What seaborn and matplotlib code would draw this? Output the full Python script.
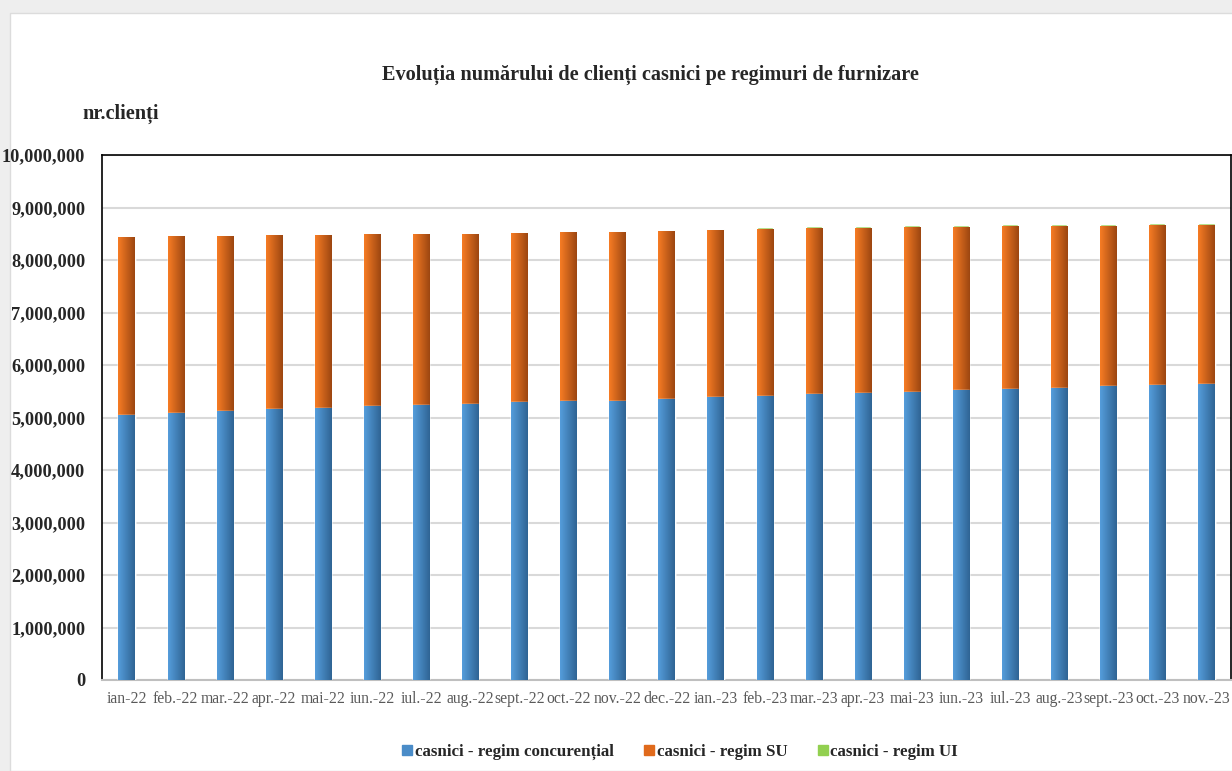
import numpy as np
import pandas as pd
import matplotlib
matplotlib.use("Agg")
import matplotlib.pyplot as plt
import seaborn as sns
from matplotlib.colors import LinearSegmentedColormap
from matplotlib.patches import Rectangle
from matplotlib.ticker import FuncFormatter, MultipleLocator

# -----------------------------
# DATA
# -----------------------------
months = ["ian-22", "feb.-22", "mar.-22", "apr.-22", "mai-22", "iun.-22", "iul.-22",
          "aug.-22", "sept.-22", "oct.-22", "nov.-22", "dec.-22", "ian.-23", "feb.-23",
          "mar.-23", "apr.-23", "mai-23", "iun.-23", "iul.-23", "aug.-23", "sept.-23",
          "oct.-23", "nov.-23"]

regim_concurential = [5048000, 5086000, 5124000, 5162000, 5181000, 5219000, 5238000,
                      5257000, 5295000, 5314000, 5314000, 5352000, 5390000, 5410000,
                      5448000, 5467000, 5486000, 5524000, 5543000, 5562000, 5600000,
                      5619000, 5638000]

regim_su = [3396000, 3377000, 3339000, 3320000, 3301000, 3282000, 3263000,
            3244000, 3225000, 3225000, 3225000, 3206000, 3187000, 3186000,
            3167000, 3148000, 3148000, 3110000, 3110000, 3091000, 3053000,
            3053000, 3034000]

regim_ui = [18000, 16000, 16000, 18000, 18000, 18000, 18000,
            18000, 20000, 20000, 20000, 22000, 22000, 24000,
            24000, 24000, 26000, 26000, 26000, 26000, 28000,
            30000, 30000]

labels = ["casnici - regim concurențial", "casnici - regim SU", "casnici - regim UI"]

df = pd.DataFrame({"luna": months, "conc": regim_concurential,
                   "su": regim_su, "ui": regim_ui})
df["conc_su"] = df["conc"] + df["su"]
df["total"] = df["conc_su"] + df["ui"]

# -----------------------------
# STYLE
# -----------------------------
sns.set_style("white")
plt.rcParams["font.family"] = ["Liberation Serif", "DejaVu Serif"]

blue_l, blue_r = "#559ddb", "#2f6494"
orange_l, orange_r = "#f77c24", "#9c4611"
green = "#92d050"

W, H = 1232, 771
fig = plt.figure(figsize=(W / 100, H / 100), dpi=100)
fig.patch.set_facecolor("#eeeeee")
fig.patches.append(Rectangle((10 / W, 0), 1, 1 - 13 / H, transform=fig.transFigure,
                             facecolor="white", edgecolor="#dcdcdc", lw=1, zorder=-5))

ax = fig.add_axes([102 / W, 1 - 680 / H, 1129 / W, 525 / H])

bw = 0.33
# stacked by overlap: total first, then lower parts on top
sns.barplot(data=df, x="luna", y="total", color=green, width=bw, ax=ax,
            saturation=1, zorder=2)
sns.barplot(data=df, x="luna", y="conc_su", color=orange_l, width=bw, ax=ax,
            saturation=1, zorder=3)
sns.barplot(data=df, x="luna", y="conc", color=blue_l, width=bw, ax=ax,
            saturation=1, zorder=4)

# left-to-right gradient on the bars, like the original
n = len(months)
patches = list(ax.patches)
grad = np.linspace(0, 1, 64).reshape(1, -1)
for i, p in enumerate(patches):
    layer = i // n
    if layer == 0:
        continue
    cl, cr = (orange_l, orange_r) if layer == 1 else (blue_l, blue_r)
    cmap = LinearSegmentedColormap.from_list("g", [cl, cr])
    x0, y0 = p.get_x(), p.get_y()
    im = ax.imshow(grad, cmap=cmap, aspect="auto", interpolation="bilinear",
                   extent=[x0, x0 + p.get_width(), y0, y0 + p.get_height()],
                   zorder=p.get_zorder() + 0.1)
    im.set_clip_path(p)

ax.set_xlim(-0.5, n - 0.5)
ax.set_ylim(0, 10000000)
ax.yaxis.set_major_locator(MultipleLocator(1000000))
ax.yaxis.set_major_formatter(FuncFormatter(lambda v, _: f"{int(v):,}"))
ax.grid(axis="y", color="#d9d9d9", lw=1.5, zorder=0)
ax.set_axisbelow(True)

for s in ["left", "top", "right"]:
    ax.spines[s].set_color("black")
    ax.spines[s].set_linewidth(1.2)
ax.spines["bottom"].set_color("#bfbfbf")
ax.spines["bottom"].set_linewidth(1.5)

ax.tick_params(axis="y", length=0, pad=12, labelsize=13.2)
for t in ax.get_yticklabels():
    t.set_fontweight("bold")
ax.tick_params(axis="x", length=0, pad=8, labelsize=11.3, labelcolor="#595959")
ax.set_xlabel("")
ax.set_ylabel("")

fig.text(650 / W, 1 - 75 / H, "Evoluția numărului de clienți casnici pe regimuri de furnizare",
         ha="center", va="center", fontsize=14.6, fontweight="bold")
fig.text(82 / W, 1 - 114 / H, "nr.clienți", ha="left", va="center",
         fontsize=14.6, fontweight="bold")

handles = [Rectangle((0, 0), 1, 1, color=c) for c in ["#4a8cc8", "#e06a1c", green]]
fig.legend(handles, labels, loc="center", bbox_to_anchor=(680 / W, 1 - 752 / H),
           ncol=3, frameon=False, handlelength=0.6, handleheight=0.6,
           handletextpad=0.15, columnspacing=1.8,
           prop={"weight": "bold", "size": 12.2})

fig.savefig("out.png", dpi=100, facecolor=fig.get_facecolor())
